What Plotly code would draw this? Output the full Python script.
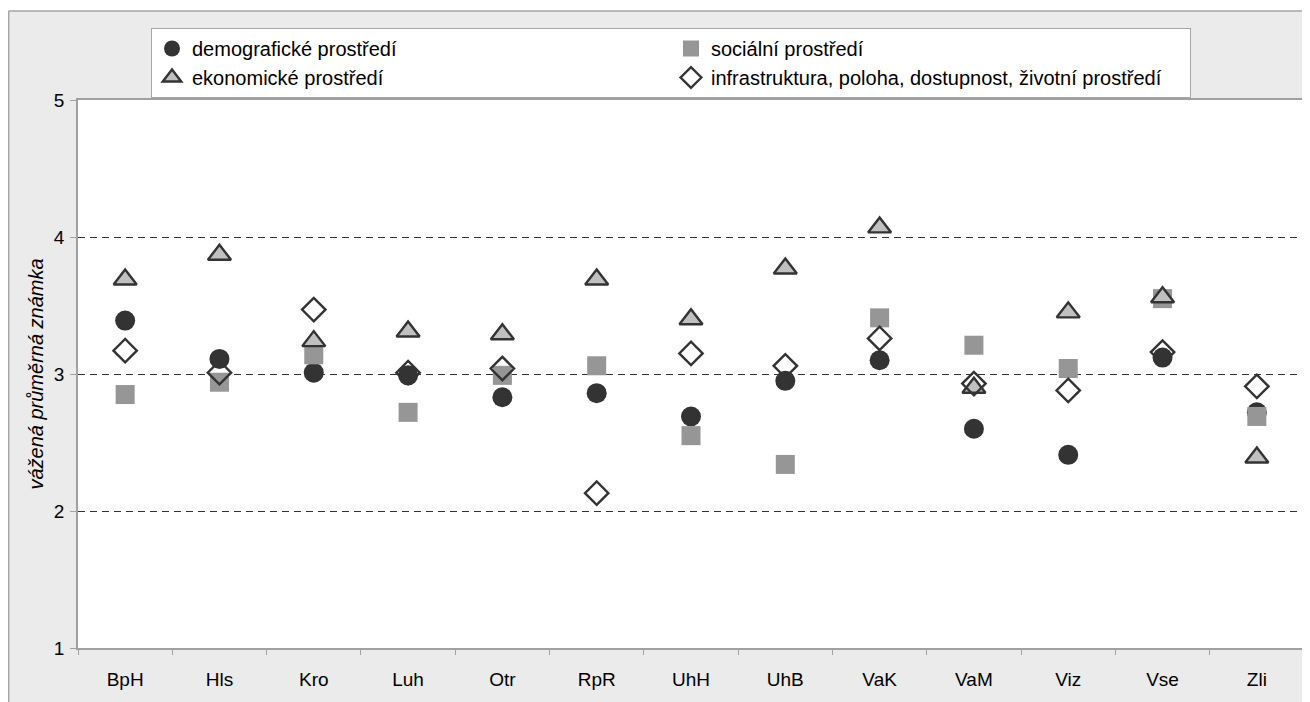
import plotly.graph_objects as go

categories = ["BpH", "Hls", "Kro", "Luh", "Otr", "RpR", "UhH", "UhB", "VaK", "VaM", "Viz", "Vse", "Zli"]
demograficke = [3.39, 3.11, 3.01, 2.99, 2.83, 2.86, 2.69, 2.95, 3.10, 2.60, 2.41, 3.12, 2.72]
socialni = [2.85, 2.94, 3.14, 2.72, 2.99, 3.06, 2.55, 2.34, 3.41, 3.21, 3.04, 3.55, 2.69]
ekonomicke = [3.69, 3.87, 3.24, 3.31, 3.29, 3.69, 3.40, 3.77, 4.07, 2.90, 3.45, 3.56, 2.39]
infrastruktura = [3.17, 3.01, 3.47, 3.01, 3.04, 2.13, 3.15, 3.06, 3.26, 2.93, 2.88, 3.16, 2.91]

names = ["demografické prostředí", "sociální prostředí", "ekonomické prostředí",
         "infrastruktura, poloha, dostupnost, životní prostředí"]

FONT = "Liberation Sans, Arial, sans-serif"

fig = go.Figure()
fig.add_trace(go.Scatter(x=categories, y=demograficke, mode="markers", name=names[0],
                         marker=dict(symbol="circle", size=20, color="#333333", line=dict(width=0))))
fig.add_trace(go.Scatter(x=categories, y=socialni, mode="markers", name=names[1],
                         marker=dict(symbol="square", size=19, color="#969696", line=dict(width=0))))
fig.add_trace(go.Scatter(x=categories, y=ekonomicke, mode="markers", name=names[2],
                         marker=dict(symbol="triangle-up", size=20, color="#c0c0c0",
                                     line=dict(width=2.4, color="#333333"))))
fig.add_trace(go.Scatter(x=categories, y=infrastruktura, mode="markers", name=names[3],
                         marker=dict(symbol="diamond-open", size=18, color="#333333",
                                     line=dict(width=2.4, color="#333333"))))

# page offset (body margin) = 8 px; plot area in page coords: x 78..1304, y 100..648
OFF = 8
L, R, T, B = 78 - OFF, 1304 - OFF, 100 - OFF, 648 - OFF
W, H = 1310, 702
pw, ph = float(R - L), float(B - T)

def px(page_x):
    return (page_x - OFF - L) / pw

def py(page_y):
    return (B - (page_y - OFF)) / ph

shapes = [
    dict(type="rect", xref="paper", yref="paper", x0=px(0), x1=px(1330), y0=py(11), y1=py(0),
         fillcolor="white", line=dict(width=0), layer="below"),
    dict(type="line", xref="paper", yref="paper", x0=px(8.5), x1=px(1330), y0=py(11), y1=py(11),
         line=dict(color="#a6a6a6", width=1.5), layer="below"),
    dict(type="line", xref="paper", yref="paper", x0=px(8.7), x1=px(8.7), y0=py(11), y1=py(720),
         line=dict(color="#a6a6a6", width=1.5), layer="below"),
]

fig.update_layout(
    width=W, height=H,
    margin=dict(l=L, r=W - R, t=T, b=H - B),
    paper_bgcolor="#ebebeb",
    plot_bgcolor="white",
    font=dict(family=FONT, color="black", size=19),
    shapes=shapes,
    showlegend=True,
    legend=dict(
        orientation="h",
        x=px(151), y=py(28), xanchor="left", yanchor="top",
        bgcolor="white", bordercolor="#a6a6a6", borderwidth=1,
        entrywidth=474, entrywidthmode="pixels",
        font=dict(family=FONT, size=20, color="black"),
        itemwidth=30,
        traceorder="normal",
    ),
    xaxis=dict(
        type="category", range=[-0.5, 12.5],
        showgrid=False, showline=True, linecolor="#a0a0a0", linewidth=1.5, mirror=True,
        ticks="outside", tickson="boundaries", ticklen=5, tickcolor="#a0a0a0",
        tickfont=dict(family=FONT, size=19, color="black"),
        ticklabelstandoff=13,
        zeroline=False,
    ),
    yaxis=dict(
        range=[1, 5], tickvals=[1, 2, 3, 4, 5],
        showgrid=True, gridcolor="#333333", gridwidth=1, griddash="7px,5px",
        showline=True, linecolor="#a0a0a0", linewidth=1.5, mirror=True,
        ticks="outside", ticklen=6, tickcolor="#a0a0a0",
        tickfont=dict(family=FONT, size=19, color="black"),
        ticklabelstandoff=2,
        zeroline=False,
        title=dict(text="<i>vážená průměrná známka</i>", font=dict(family=FONT, size=20, color="black"),
                   standoff=5),
    ),
)

fig.write_html("out.html")
